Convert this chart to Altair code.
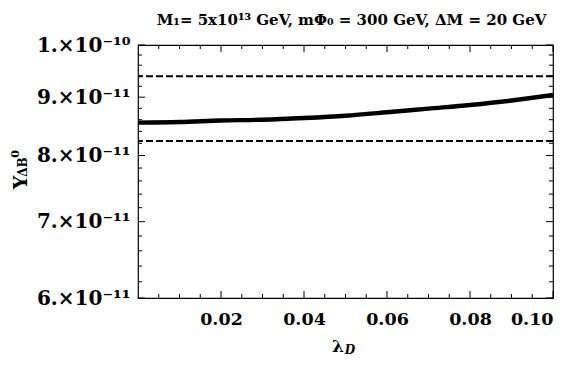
import altair as alt
import pandas as pd

# ---- data ----
lam = [0.0, 0.01, 0.02, 0.03, 0.04, 0.05, 0.06, 0.07, 0.08, 0.09, 0.10]
y_curve = [8.55e-11, 8.56e-11, 8.585e-11, 8.60e-11, 8.63e-11, 8.67e-11,
           8.73e-11, 8.795e-11, 8.86e-11, 8.94e-11, 9.04e-11]
obs_bounds = [9.39e-11, 8.24e-11]

x_ticks_major = [0.02, 0.04, 0.06, 0.08, 0.10]
x_ticks_minor = [0.005, 0.01, 0.015, 0.025, 0.03, 0.035, 0.045, 0.05, 0.055,
                 0.065, 0.07, 0.075, 0.085, 0.09, 0.095]
y_ticks_major = [6e-11, 7e-11, 8e-11, 9e-11, 1e-10]
y_ticks_minor = [6.2e-11, 6.4e-11, 6.6e-11, 6.8e-11, 7.2e-11, 7.4e-11, 7.6e-11,
                 7.8e-11, 8.2e-11, 8.4e-11, 8.6e-11, 8.8e-11, 9.2e-11, 9.4e-11,
                 9.6e-11, 9.8e-11]

title_text = "M\u2081= 5x10\u00b9\u00b3 GeV,  m\u03a6\u2080 = 300 GeV, \u0394M = 20 GeV"

W, H = 415, 253
FONT = "DejaVu Serif"
MAJ, MIN = 7, 4

xs = alt.Scale(domain=[0, 0.1], nice=False, zero=False)
ys = alt.Scale(type="log", domain=[6e-11, 1e-10], nice=False)

x_axis = alt.Axis(values=x_ticks_major, format=".2f", ticks=False, title=None,
                  domain=False, grid=False, labelFont=FONT, labelFontSize=17.5,
                  labelFontWeight="bold", labelColor="black", labelPadding=12)
y_axis = alt.Axis(values=y_ticks_major, ticks=False, domain=False, title=None,
                  grid=False, labelFont=FONT, labelFontSize=20,
                  labelFontWeight="bold", labelColor="black", labelPadding=8,
                  labelExpr="datum.value >= 9.9e-11 ? '1.\u00d710\u207b\u00b9\u2070' : round(datum.value*1e11) + '.\u00d710\u207b\u00b9\u00b9'")


def X(field):
    return alt.X(field, scale=xs, axis=x_axis, title=None)


def Y(field):
    return alt.Y(field, scale=ys, axis=y_axis, title=None)


curve_df = pd.DataFrame({"lam": lam, "Y": y_curve})
bounds_df = pd.DataFrame({"Y": obs_bounds})

curve = alt.Chart(curve_df).mark_line(
    color="black", strokeWidth=4.4, interpolate="monotone", clip=True
).encode(x=X("lam:Q"), y=Y("Y:Q"))

bounds = alt.Chart(bounds_df).mark_rule(
    color="black", strokeWidth=2, strokeDash=[7, 3]
).encode(y=Y("Y:Q"))


def yticks(vals, length):
    df = pd.DataFrame({"Y": vals})
    left = alt.Chart(df).mark_rule(color="black", strokeWidth=1).encode(
        y=Y("Y:Q"), x=alt.value(0), x2=alt.value(length))
    right = alt.Chart(df).mark_rule(color="black", strokeWidth=1).encode(
        y=Y("Y:Q"), x=alt.value(W - length), x2=alt.value(W))
    return [left, right]


def xticks(vals, length):
    df = pd.DataFrame({"lam": vals})
    bottom = alt.Chart(df).mark_rule(color="black", strokeWidth=1).encode(
        x=X("lam:Q"), y=alt.value(H), y2=alt.value(H - length))
    top = alt.Chart(df).mark_rule(color="black", strokeWidth=1).encode(
        x=X("lam:Q"), y=alt.value(0), y2=alt.value(length))
    return [bottom, top]


one = pd.DataFrame({"a": [0]})


def label(txt, x, y, size, angle=0, style="normal"):
    return alt.Chart(one).mark_text(
        font=FONT, fontSize=size, fontWeight="bold", fontStyle=style, color="black",
        angle=angle, align="center", baseline="middle"
    ).encode(x=alt.value(x), y=alt.value(y), text=alt.value(txt))


ytitle = [
    label("Y", -117, 137.5, 19, angle=270),
    label("\u0394B", -115, 122, 12, angle=270),
    label("0", -122, 109, 11, angle=270),
]
xtitle = [
    label("\u03bb", 200, 302, 17),
    label("D", 212, 305, 12, style="italic"),
]

layers = [curve, bounds] + yticks(y_ticks_major, MAJ) + yticks(y_ticks_minor, MIN) \
    + xticks(x_ticks_major, MAJ) + xticks(x_ticks_minor, MIN) + ytitle + xtitle

chart = alt.layer(*layers).properties(
    width=W, height=H,
    title=alt.TitleParams(text=title_text, font=FONT, fontSize=15, fontWeight="bold",
                          anchor="middle", offset=7, dx=6, color="black"),
    padding={"left": 130, "top": 37, "right": 15, "bottom": 60},
    autosize=alt.AutoSizeParams(type="none"),
).configure_view(stroke="black", strokeWidth=1.2)

chart.save("out.html", embed_options={"renderer": "svg", "actions": False})
